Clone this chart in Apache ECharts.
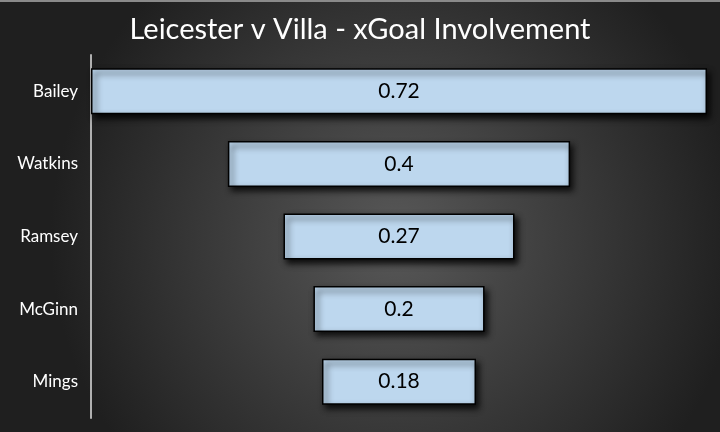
<!DOCTYPE html>
<html>
<head>
<meta charset="utf-8">
<script src="https://cdn.jsdelivr.net/npm/echarts@6/dist/echarts.min.js"></script>
<style>html,body{margin:0;padding:0;background:#333;}#c{width:720px;height:432px;}</style>
</head>
<body>
<div id="c"></div>
<script>
const players = ['Bailey', 'Watkins', 'Ramsey', 'McGinn', 'Mings'];
const xgi = [0.72, 0.4, 0.27, 0.2, 0.18];
const titleText = 'Leicester v Villa - xGoal Involvement';

const maxVal = Math.max(...xgi);
const offsets = xgi.map(v => (maxVal - v) / 2);

const chart = echarts.init(document.getElementById('c'));
chart.setOption({
  animation: false,
  backgroundColor: {
    type: 'radial', x: 0.55, y: 0.55, r: 0.8,
    colorStops: [
      {offset: 0, color: '#585858'},
      {offset: 1, color: '#1f1f1f'}
    ]
  },
  title: {
    text: titleText,
    left: 'center',
    top: 10,
    textStyle: {color: '#ffffff', fontFamily: 'Lato', fontWeight: 'normal', fontSize: 29}
  },
  graphic: [{
    type: 'rect', shape: {x: 0, y: 0, width: 720, height: 2},
    style: {fill: '#8a8a8a'}, silent: true
  }],
  grid: {left: 91, right: 13, top: 55, bottom: 14},
  xAxis: {
    type: 'value', min: 0, max: maxVal, show: false
  },
  yAxis: {
    type: 'category', inverse: true, data: players,
    axisLine: {show: true, lineStyle: {color: '#b0b0b0', width: 2}},
    axisTick: {show: false},
    axisLabel: {color: '#ffffff', fontFamily: 'Lato', fontSize: 17, margin: 13}
  },
  series: [
    {
      type: 'bar', stack: 'f', data: offsets, barWidth: 46,
      itemStyle: {color: 'transparent'}, silent: true
    },
    {
      type: 'bar', stack: 'f', data: xgi, barWidth: 46,
      itemStyle: {
        color: '#bdd7ee', borderColor: '#000000', borderWidth: 1.5,
        shadowColor: 'rgba(0,0,0,0.85)', shadowBlur: 6, shadowOffsetX: 3, shadowOffsetY: 4
      },
      label: {
        show: true, position: 'inside', color: '#000000',
        fontFamily: 'Lato', fontSize: 21
      }
    }
  ]
});
</script>
</body>
</html>
